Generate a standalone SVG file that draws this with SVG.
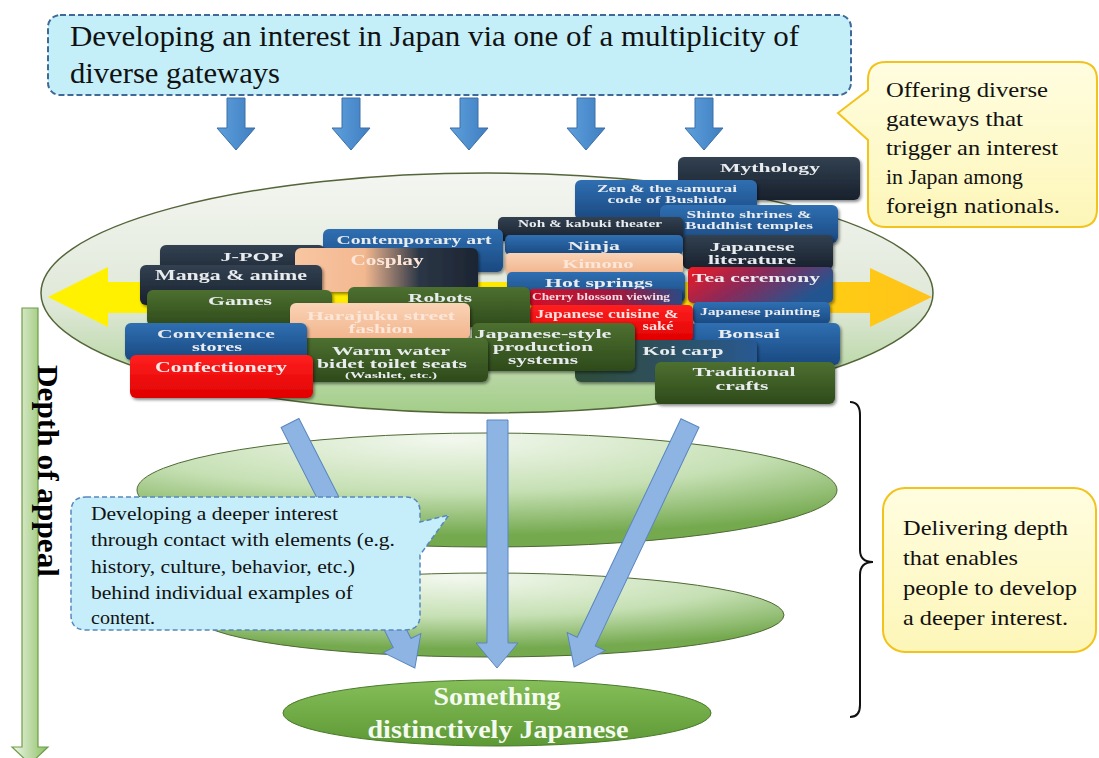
<svg xmlns="http://www.w3.org/2000/svg" width="1099" height="758" viewBox="0 0 1099 758">
<style>
.serif{font-family:"Liberation Serif","Times New Roman",serif}
.t{font-family:"Liberation Serif","Times New Roman",serif;font-weight:bold;fill:#e9ecef;text-anchor:middle;font-size:13px}
.tp{fill:#fde6d8}
.s{font-size:10px}
.tile{filter:url(#sh)}
.big{font-size:30px;fill:#111}
.call{font-size:22px;fill:#111}
</style>
<defs>
<filter id="sh" x="-10%" y="-20%" width="130%" height="150%"><feDropShadow dx="1.5" dy="2" stdDeviation="1.5" flood-color="#000" flood-opacity="0.45"/></filter>
<linearGradient id="gNavy" x1="0" y1="0" x2="0" y2="1"><stop offset="0" stop-color="#324050"/><stop offset="1" stop-color="#18212d"/></linearGradient>
<linearGradient id="gBlue" x1="0" y1="0" x2="0" y2="1"><stop offset="0" stop-color="#2f6fb2"/><stop offset="1" stop-color="#1a4980"/></linearGradient>
<linearGradient id="gGreen" x1="0" y1="0" x2="0" y2="1"><stop offset="0" stop-color="#4d7030"/><stop offset="1" stop-color="#2e4a1b"/></linearGradient>
<linearGradient id="gPeach" x1="0" y1="0" x2="0" y2="1"><stop offset="0" stop-color="#fad3b6"/><stop offset="1" stop-color="#f1b58d"/></linearGradient>
<linearGradient id="gRed" x1="0" y1="0" x2="0" y2="1"><stop offset="0" stop-color="#ff2020"/><stop offset="1" stop-color="#e00000"/></linearGradient>
<linearGradient id="gCos" x1="0" y1="0" x2="1" y2="0"><stop offset="0" stop-color="#f8c6a2"/><stop offset="0.38" stop-color="#f3b890"/><stop offset="0.68" stop-color="#2b3646"/><stop offset="1" stop-color="#1c2532"/></linearGradient>
<linearGradient id="gTea" x1="0" y1="0" x2="1" y2="0.4"><stop offset="0" stop-color="#f01a22"/><stop offset="0.5" stop-color="#8a2a5a"/><stop offset="1" stop-color="#24558f"/></linearGradient>
<linearGradient id="gCherry" x1="0" y1="0" x2="1" y2="0"><stop offset="0" stop-color="#d0102a"/><stop offset="0.6" stop-color="#9a1a40"/><stop offset="1" stop-color="#2a4a85"/></linearGradient>
<linearGradient id="gKoi" x1="0" y1="0" x2="1" y2="0"><stop offset="0" stop-color="#2f4d38"/><stop offset="0.5" stop-color="#2d5060"/><stop offset="1" stop-color="#285a92"/></linearGradient>
<linearGradient id="gE1" x1="0" y1="0" x2="0" y2="1"><stop offset="0" stop-color="#f4f6f1"/><stop offset="0.55" stop-color="#dfe8d8"/><stop offset="1" stop-color="#a3cd88"/></linearGradient>
<radialGradient id="gE2" cx="0.45" cy="0.05" r="0.85"><stop offset="0" stop-color="#f3f8ef"/><stop offset="0.55" stop-color="#c6e0b4"/><stop offset="1" stop-color="#74a94e"/></radialGradient>
<linearGradient id="gE4" x1="0" y1="0" x2="0" y2="1"><stop offset="0" stop-color="#86bf5a"/><stop offset="1" stop-color="#5c9834"/></linearGradient>
<linearGradient id="gDepth" x1="0" y1="0" x2="1" y2="0"><stop offset="0" stop-color="#f0f6ea"/><stop offset="1" stop-color="#8cbf62"/></linearGradient>
<linearGradient id="gYel" x1="0" y1="0" x2="1" y2="0"><stop offset="0" stop-color="#fff200"/><stop offset="0.6" stop-color="#ffe600"/><stop offset="1" stop-color="#ffc21a"/></linearGradient>
<linearGradient id="gDown" x1="0" y1="0" x2="1" y2="0"><stop offset="0" stop-color="#5e9fdc"/><stop offset="1" stop-color="#3f7fc2"/></linearGradient>
<linearGradient id="gCall" x1="0" y1="0" x2="0" y2="1"><stop offset="0" stop-color="#fffde0"/><stop offset="1" stop-color="#fdf6b8"/></linearGradient>
<polygon id="dn" points="-9,0 9,0 9,30 19,30 0,52 -19,30 -9,30"/>
</defs>
<rect width="1099" height="758" fill="#fff"/>

<g id="top-box">
<rect x="48" y="15" width="803" height="80" rx="12" fill="#c4eff9" stroke="#3f6a97" stroke-width="2" stroke-dasharray="6 3"/>
<text class="serif big" x="70" y="46" textLength="729" lengthAdjust="spacingAndGlyphs">Developing an interest in Japan via one of a multiplicity of</text>
<text class="serif big" x="70" y="83" textLength="210" lengthAdjust="spacingAndGlyphs">diverse gateways</text>
</g>

<g id="callout-gateways">
<path d="M886,62 H1079 Q1097,62 1097,80 V209 Q1097,227 1079,227 H886 Q868,227 868,209 V140 L838,113 L868,90 V80 Q868,62 886,62 Z" fill="url(#gCall)" stroke="#f2c31c" stroke-width="2"/>
<g class="serif call">
<text x="886" y="97" textLength="162" lengthAdjust="spacingAndGlyphs">Offering diverse</text>
<text x="886" y="126" textLength="137" lengthAdjust="spacingAndGlyphs">gateways that</text>
<text x="886" y="155" textLength="172" lengthAdjust="spacingAndGlyphs">trigger an interest</text>
<text x="886" y="184" textLength="137" lengthAdjust="spacingAndGlyphs">in Japan among</text>
<text x="886" y="213" textLength="174" lengthAdjust="spacingAndGlyphs">foreign nationals.</text>
</g>
</g>

<g id="gateway-ellipse">
<ellipse cx="487" cy="293" rx="446" ry="120" fill="url(#gE1)" stroke="#55653a" stroke-width="1.5"/>
<polygon points="48,297 108,267 108,282 870,282 870,268 932,297 870,327 870,313 108,313 108,327" fill="url(#gYel)"/>
</g>

<g id="level-2"><ellipse cx="487" cy="490" rx="350" ry="57" fill="url(#gE2)" stroke="#4f6a35" stroke-width="1"/></g>
<g id="level-3"><ellipse cx="489" cy="615" rx="295" ry="42" fill="url(#gE2)" stroke="#4f6a35" stroke-width="1"/></g>

<g id="tiles">
<g id="t-mythology" class="tile"><rect x="678" y="157" width="182" height="43" rx="6" fill="url(#gNavy)"/><text class="t" x="770" y="172" textLength="100" lengthAdjust="spacingAndGlyphs">Mythology</text></g>
<g id="t-zen" class="tile"><rect x="575" y="180" width="182" height="40" rx="6" fill="url(#gBlue)"/><text class="t" style="font-size:11px" x="667" y="192" textLength="140" lengthAdjust="spacingAndGlyphs">Zen &amp; the samurai</text><text class="t" style="font-size:11px" x="667" y="203" textLength="119" lengthAdjust="spacingAndGlyphs">code of Bushido</text></g>
<g id="t-shinto" class="tile"><rect x="660" y="205" width="178" height="38" rx="6" fill="url(#gBlue)"/><text class="t" style="font-size:11px" x="749" y="218" textLength="125" lengthAdjust="spacingAndGlyphs">Shinto shrines &amp;</text><text class="t" style="font-size:11px" x="749" y="229" textLength="128" lengthAdjust="spacingAndGlyphs">Buddhist temples</text></g>
<g id="t-literature" class="tile"><rect x="683" y="235" width="150" height="34" rx="5" fill="url(#gNavy)"/><text class="t" x="752" y="251" textLength="85" lengthAdjust="spacingAndGlyphs">Japanese</text><text class="t" x="752" y="264" textLength="88" lengthAdjust="spacingAndGlyphs">literature</text></g>
<g id="t-tea" class="tile"><rect x="688" y="267" width="145" height="36" rx="5" fill="url(#gTea)"/><text class="t" x="756" y="282" textLength="128" lengthAdjust="spacingAndGlyphs">Tea ceremony</text></g>
<g id="t-painting" class="tile"><rect x="693" y="302" width="137" height="22" rx="5" fill="url(#gBlue)"/><text class="t s" x="760" y="315" textLength="120" lengthAdjust="spacingAndGlyphs">Japanese painting</text></g>
<g id="t-bonsai" class="tile"><rect x="690" y="323" width="150" height="42" rx="6" fill="url(#gBlue)"/><text class="t" x="749" y="338" textLength="62" lengthAdjust="spacingAndGlyphs">Bonsai</text></g>
<g id="t-noh" class="tile"><rect x="498" y="217" width="185" height="24" rx="5" fill="url(#gNavy)"/><text class="t s" x="590" y="227" textLength="144" lengthAdjust="spacingAndGlyphs">Noh &amp; kabuki theater</text></g>
<g id="t-ninja" class="tile"><rect x="505" y="235" width="178" height="20" rx="5" fill="url(#gBlue)"/><text class="t" x="594" y="250" textLength="52" lengthAdjust="spacingAndGlyphs">Ninja</text></g>
<g id="t-kimono" class="tile"><rect x="505" y="253" width="178" height="21" rx="5" fill="url(#gPeach)"/><text class="t tp" x="598" y="268" textLength="71" lengthAdjust="spacingAndGlyphs">Kimono</text></g>
<g id="t-hotsprings" class="tile"><rect x="507" y="272" width="178" height="30" rx="5" fill="url(#gBlue)"/><text class="t" x="599" y="287" textLength="108" lengthAdjust="spacingAndGlyphs">Hot springs</text></g>
<g id="t-cherry" class="tile"><rect x="530" y="289" width="152" height="17" rx="3" fill="url(#gCherry)"/><text class="t" style="font-size:9.5px;fill:#f6dbe2" x="601" y="300" textLength="138" lengthAdjust="spacingAndGlyphs">Cherry blossom viewing</text></g>
<g id="t-cuisine" class="tile"><rect x="530" y="305" width="163" height="36" rx="5" fill="url(#gRed)"/><text class="t" style="font-size:12px;fill:#fbe0e0" x="607" y="318" textLength="143" lengthAdjust="spacingAndGlyphs">Japanese cuisine &amp;</text><text class="t" style="font-size:12px;fill:#fbe0e0" x="658" y="330" textLength="31" lengthAdjust="spacingAndGlyphs">saké</text></g>
<g id="t-contemporary" class="tile"><rect x="323" y="229" width="180" height="43" rx="6" fill="url(#gBlue)"/><text class="t" x="414" y="244" textLength="155" lengthAdjust="spacingAndGlyphs">Contemporary art</text></g>
<g id="t-jpop" class="tile"><rect x="160" y="245" width="165" height="42" rx="6" fill="url(#gNavy)"/><text class="t" x="252" y="261" textLength="63" lengthAdjust="spacingAndGlyphs">J-POP</text></g>
<g id="t-cosplay" class="tile"><rect x="295" y="248" width="183" height="44" rx="6" fill="url(#gCos)"/><text class="t tp" style="font-size:14px" x="387" y="265" textLength="73" lengthAdjust="spacingAndGlyphs">Cosplay</text></g>
<g id="t-manga" class="tile"><rect x="140" y="265" width="182" height="40" rx="6" fill="url(#gNavy)"/><text class="t" style="font-size:14px" x="231" y="280" textLength="152" lengthAdjust="spacingAndGlyphs">Manga &amp; anime</text></g>
<g id="t-robots" class="tile"><rect x="348" y="287" width="182" height="40" rx="6" fill="url(#gGreen)"/><text class="t" x="440" y="302" textLength="64" lengthAdjust="spacingAndGlyphs">Robots</text></g>
<g id="t-games" class="tile"><rect x="147" y="290" width="185" height="36" rx="6" fill="url(#gGreen)"/><text class="t" x="240" y="305" textLength="64" lengthAdjust="spacingAndGlyphs">Games</text></g>
<g id="t-koi" class="tile"><rect x="575" y="340" width="182" height="42" rx="6" fill="url(#gKoi)"/><text class="t" x="683" y="355" textLength="81" lengthAdjust="spacingAndGlyphs">Koi carp</text></g>
<g id="t-production" class="tile"><rect x="472" y="323" width="163" height="48" rx="6" fill="url(#gGreen)"/><text class="t" x="543" y="338" textLength="137" lengthAdjust="spacingAndGlyphs">Japanese-style</text><text class="t" x="543" y="351" textLength="100" lengthAdjust="spacingAndGlyphs">production</text><text class="t" x="543" y="364" textLength="70" lengthAdjust="spacingAndGlyphs">systems</text></g>
<g id="t-harajuku" class="tile"><rect x="290" y="303" width="180" height="36" rx="6" fill="url(#gPeach)"/><text class="t tp" x="381" y="320" textLength="148" lengthAdjust="spacingAndGlyphs">Harajuku street</text><text class="t tp" x="381" y="333" textLength="65" lengthAdjust="spacingAndGlyphs">fashion</text></g>
<g id="t-washlet" class="tile"><rect x="295" y="338" width="193" height="44" rx="6" fill="url(#gGreen)"/><text class="t" x="391" y="355" textLength="118" lengthAdjust="spacingAndGlyphs">Warm water</text><text class="t" x="392" y="368" textLength="150" lengthAdjust="spacingAndGlyphs">bidet toilet seats</text><text class="t" style="font-size:8.5px" x="391" y="378" textLength="92" lengthAdjust="spacingAndGlyphs">(Washlet, etc.)</text></g>
<g id="t-convenience" class="tile"><rect x="125" y="323" width="182" height="37" rx="6" fill="url(#gBlue)"/><text class="t" x="216" y="338" textLength="118" lengthAdjust="spacingAndGlyphs">Convenience</text><text class="t" x="217" y="351" textLength="50" lengthAdjust="spacingAndGlyphs">stores</text></g>
<g id="t-confectionery" class="tile"><rect x="130" y="355" width="183" height="43" rx="6" fill="url(#gRed)"/><text class="t" style="font-size:14px;fill:#fde8e8" x="221" y="372" textLength="132" lengthAdjust="spacingAndGlyphs">Confectionery</text></g>
<g id="t-crafts" class="tile"><rect x="655" y="362" width="180" height="42" rx="6" fill="url(#gGreen)"/><text class="t" x="744" y="376" textLength="103" lengthAdjust="spacingAndGlyphs">Traditional</text><text class="t" x="742" y="390" textLength="53" lengthAdjust="spacingAndGlyphs">crafts</text></g>
</g>

<g id="core">
<ellipse cx="497" cy="713" rx="214" ry="33" fill="url(#gE4)" stroke="#4a7a2a" stroke-width="1"/>
<text class="serif" x="497" y="705" text-anchor="middle" font-weight="bold" font-size="25" fill="#f4faef" textLength="127" lengthAdjust="spacingAndGlyphs">Something</text>
<text class="serif" x="498" y="738" text-anchor="middle" font-weight="bold" font-size="25" fill="#f4faef" textLength="261" lengthAdjust="spacingAndGlyphs">distinctively Japanese</text>
</g>

<g id="connectors">
<g fill="url(#gDown)" stroke="#3d6fa6" stroke-width="1">
<use href="#dn" x="236" y="98"/>
<use href="#dn" x="351" y="98"/>
<use href="#dn" x="469" y="98"/>
<use href="#dn" x="586" y="98"/>
<use href="#dn" x="704" y="98"/>
</g>
<g fill="#8eb4e3" stroke="#5a86bf" stroke-width="1">
<polygon transform="translate(290,423) rotate(-27)" points="-10,0 10,0 10,247 21,247 0,275 -21,247 -10,247"/>
<polygon points="487,420 508,420 508,643 518,643 497,668 476,643 487,643"/>
<polygon transform="translate(690,423) rotate(25.4)" points="-10,0 10,0 10,242 21,242 0,270 -21,242 -10,242"/>
</g>
</g>

<g id="callout-deeper">
<path d="M86,497 H405 Q420,497 420,512 V522 L449,515 L420,555 V615 Q420,630 405,630 H86 Q71,630 71,615 V512 Q71,497 86,497 Z" fill="#c6eefa" stroke="#5788bd" stroke-width="1.5" stroke-dasharray="5 3"/>
<g class="serif" font-size="19.5" fill="#111">
<text x="91" y="520" textLength="247" lengthAdjust="spacingAndGlyphs">Developing a deeper interest</text>
<text x="91" y="546" textLength="304" lengthAdjust="spacingAndGlyphs">through contact with elements (e.g.</text>
<text x="91" y="573" textLength="264" lengthAdjust="spacingAndGlyphs">history, culture, behavior, etc.)</text>
<text x="91" y="599" textLength="262" lengthAdjust="spacingAndGlyphs">behind individual examples of</text>
<text x="91" y="624" textLength="64" lengthAdjust="spacingAndGlyphs">content.</text>
</g>
</g>

<g id="depth-axis">
<polygon points="22,308 38,308 38,747 48,747 30,764 12,747 22,747" fill="url(#gDepth)" stroke="#6e9e48" stroke-width="1.2"/>
<text class="serif" transform="translate(38,365) rotate(90)" font-weight="bold" font-size="29" fill="#000" textLength="212" lengthAdjust="spacingAndGlyphs">Depth of appeal</text>
</g>

<g id="brace">
<path d="M850,402 Q860,402 860,415 V550 Q860,562 873,562 Q860,562 860,575 V705 Q860,717 850,717" fill="none" stroke="#111" stroke-width="2"/>
</g>

<g id="callout-depth">
<rect x="883" y="488" width="213" height="164" rx="22" fill="url(#gCall)" stroke="#f2c31c" stroke-width="2"/>
<g class="serif call">
<text x="903" y="535" textLength="165" lengthAdjust="spacingAndGlyphs">Delivering depth</text>
<text x="903" y="565" textLength="115" lengthAdjust="spacingAndGlyphs">that enables</text>
<text x="903" y="595" textLength="174" lengthAdjust="spacingAndGlyphs">people to develop</text>
<text x="903" y="625" textLength="165" lengthAdjust="spacingAndGlyphs">a deeper interest.</text>
</g>
</g>
</svg>
